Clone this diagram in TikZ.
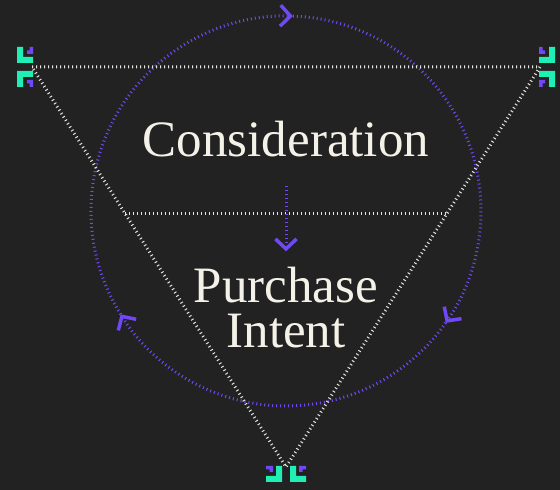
\documentclass[tikz,border=0pt]{standalone}
\usepackage{fontspec}
\setmainfont{Liberation Serif}
\usetikzlibrary{arrows.meta,calc}
\definecolor{funnelBg}{HTML}{222222}
\definecolor{funnelPurple}{HTML}{7048F5}
\definecolor{funnelGreen}{HTML}{1FEFB4}
\definecolor{funnelText}{HTML}{F4F2E8}
\definecolor{funnelDots}{HTML}{E6E6E0}

% one pair of corner ticks, the other pair is its mirror image
\newcommand{\halfmarks}{%
  \fill[funnelGreen] (-15,20) -- (-9,20) -- (-9,10) -- (1,10) -- (1,4) -- (-15,4) -- cycle;
  \fill[funnelPurple] (-2.5,20) -- (1,20) -- (1,13) -- (-5,13) -- (-5,16.5) -- (-2.5,16.5) -- cycle;}
\newcommand{\vertexmarks}{\halfmarks\begin{scope}[yscale=-1]\halfmarks\end{scope}}

\begin{document}
\begin{tikzpicture}[x=1pt,y=1pt,
    tri/.style={funnelDots,line width=3pt,dash pattern=on 1pt off 3pt},
    ring/.style={funnelPurple,line width=3pt,dash pattern=on 1pt off 3pt},
    chevron/.style={-{Straight Barb[length=10pt,width=21pt,line width=3.5pt]}},
    stage/.style={text=funnelText,font=\fontsize{51}{45}\selectfont,inner sep=0pt,align=center}]
    \fill[funnelBg] (0,0) rectangle (560,490);
    \useasboundingbox (0,0) rectangle (560,490);

    \coordinate (left) at (32,423);
    \coordinate (right) at (540,423);
    \coordinate (bottom) at (286,23);
    \coordinate (ring) at (286,279);

    % circle in three arcs, clockwise
    \draw[ring,chevron] ([shift={(212:195)}]ring) arc[start angle=212,end angle=88,radius=195pt];
    \draw[ring,chevron] ([shift={(88:195)}]ring) arc[start angle=88,end angle=-35,radius=195pt];
    \draw[ring,chevron] ([shift={(-35:195)}]ring) arc[start angle=-35,end angle=-148,radius=195pt];

    % funnel
    \draw[tri] (left) -- (right) -- (bottom) -- cycle;
    \draw[tri] ($(left)!0.3675!(bottom)$) -- ($(right)!0.3675!(bottom)$);

    \begin{scope}[shift={(left)}] \vertexmarks \end{scope}
    \begin{scope}[shift={(right)},xscale=-1] \vertexmarks \end{scope}
    \begin{scope}[shift={(bottom)},rotate=90] \vertexmarks \end{scope}

    \node[stage,anchor=base] (consideration) at (286,333) {Consideration};
    \node[stage] (intent) at (286,182) {Purchase\\Intent};
    \draw[ring,chevron,shorten <=28pt,shorten >=16pt] (consideration) -- (intent);
\end{tikzpicture}
\end{document}
